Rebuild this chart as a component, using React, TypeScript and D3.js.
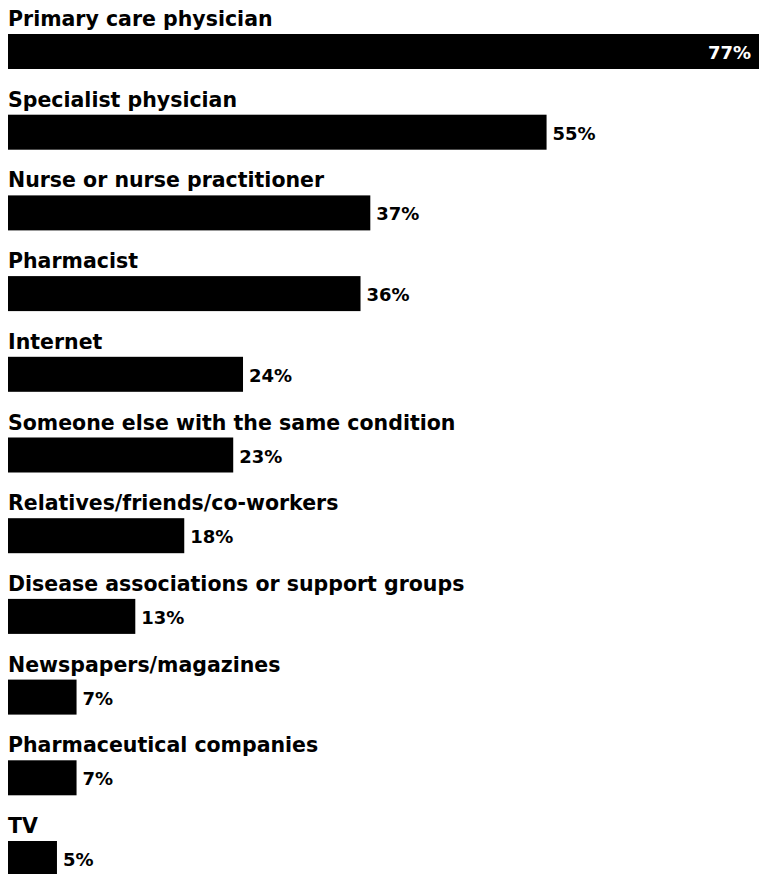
import React, { useEffect, useRef } from 'react';
import * as d3 from 'd3';

const categories = [
  'Primary care physician',
  'Specialist physician',
  'Nurse or nurse practitioner',
  'Pharmacist',
  'Internet',
  'Someone else with the same condition',
  'Relatives/friends/co-workers',
  'Disease associations or support groups',
  'Newspapers/magazines',
  'Pharmaceutical companies',
  'TV',
];
const values = [77, 55, 37, 36, 24, 23, 18, 13, 7, 7, 5];

const App: React.FC = () => {
  const svgRef = useRef<SVGSVGElement>(null);

  useEffect(() => {
    if (!svgRef.current) return;
    const svg = d3.select(svgRef.current);
    svg.selectAll('*').remove();

    const width = 759;
    const height = 874;
    svg.attr('width', width).attr('height', height);

    const x = d3.scaleLinear().domain([0, 77]).range([8, 762]);
    const y = d3.scaleBand<string>()
      .domain(categories)
      .range([0, 80.7 * categories.length]);

    const font = '"DejaVu Sans", Verdana, sans-serif';
    const data = categories.map((c, i) => ({ cat: c, v: values[i] }));

    const g = svg.append('g');

    const row = g.selectAll('g.row')
      .data(data)
      .enter()
      .append('g')
      .attr('class', 'row')
      .attr('transform', d => `translate(0,${y(d.cat)})`);

    row.append('text')
      .attr('x', 8)
      .attr('y', 26)
      .text(d => d.cat)
      .style('font-family', font)
      .style('font-weight', 'bold')
      .style('font-size', '20.5px')
      .style('fill', '#000');

    row.append('rect')
      .attr('x', x(0))
      .attr('y', 34)
      .attr('width', d => x(d.v) - x(0))
      .attr('height', 35)
      .style('fill', '#000');

    const maxV = d3.max(values) as number;
    row.append('text')
      .attr('x', d => d.v === maxV ? Math.min(x(d.v), width) - 8 : x(d.v) + 6)
      .attr('y', 59)
      .attr('text-anchor', d => d.v === maxV ? 'end' : 'start')
      .text(d => `${d.v}%`)
      .style('font-family', font)
      .style('font-weight', 'bold')
      .style('font-size', '18px')
      .style('fill', d => d.v === maxV ? '#fff' : '#000');
  }, []);

  return (
    <svg ref={svgRef} style={{ position: 'absolute', left: 0, top: 0, background: '#fff' }} />
  );
};

export default App;
